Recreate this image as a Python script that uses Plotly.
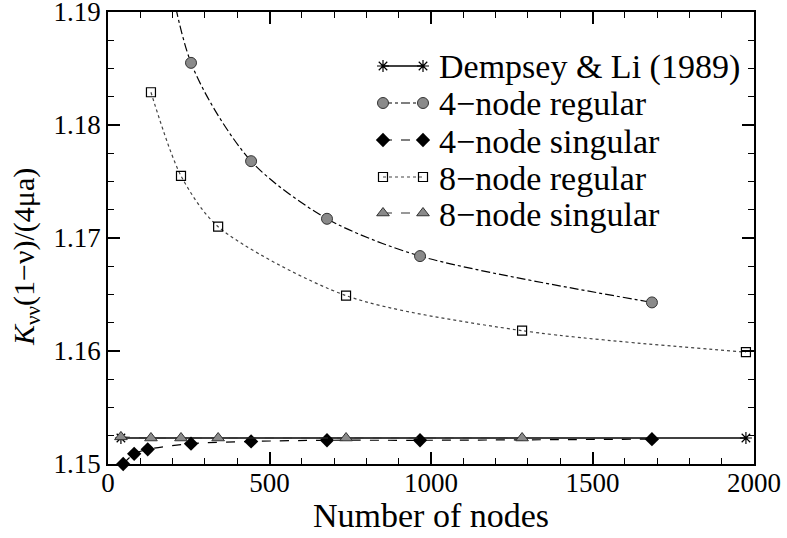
import plotly.graph_objects as go

# ---- data ----
dempsey_x = [40, 1975]
dempsey_y = [1.1523, 1.1523]

reg4_x = [123, 257, 443, 678, 966, 1684]
reg4_y = [1.2045, 1.1855, 1.1768, 1.1717, 1.1684, 1.1643]

sing4_x = [47, 81, 123, 257, 443, 678, 966, 1684]
sing4_y = [1.1500, 1.1509, 1.1513, 1.1518, 1.1520, 1.1521, 1.1521, 1.1522]

reg8_x = [133, 226, 341, 737, 1282, 1975]
reg8_y = [1.1829, 1.1755, 1.1710, 1.1649, 1.1618, 1.1599]

sing8_x = [40, 133, 226, 341, 737, 1282]
sing8_y = [1.1524, 1.1523, 1.1523, 1.1523, 1.1523, 1.1523]

series_names = ["Dempsey &amp; Li (1989)", "4−node regular", "4−node singular",
                "8−node regular", "8−node singular"]
x_ticks = [0, 500, 1000, 1500, 2000]
x_ticktext = ["0", "500", "1000", "1500", "2000"]
y_ticks = [1.15, 1.16, 1.17, 1.18, 1.19]
y_ticktext = ["1.15", "1.16", "1.17", "1.18", "1.19"]

FONT = "Liberation Serif"

styles = [
    dict(line=dict(color="black", width=1.5),
         marker=dict(symbol="asterisk-open", size=10, color="black", line=dict(color="black", width=1.2))),
    dict(line=dict(color="black", width=1.2, dash="dashdot", shape="spline", smoothing=0.8),
         marker=dict(symbol="circle", size=11, color="#8a8a8a", line=dict(color="#333333", width=1))),
    dict(line=dict(color="black", width=1.2, dash="dash", shape="spline", smoothing=0.8),
         marker=dict(symbol="diamond", size=11, color="black")),
    dict(line=dict(color="#444444", width=1.2, dash="dot", shape="spline", smoothing=0.8),
         marker=dict(symbol="square-open", size=9, color="black", line=dict(color="black", width=1.2))),
    dict(line=dict(color="#333333", width=1.2, dash="dash", shape="spline", smoothing=0.8),
         marker=dict(symbol="triangle-up", size=11, color="#8a8a8a", line=dict(color="#333333", width=1))),
]
data = [(dempsey_x, dempsey_y), (reg4_x, reg4_y), (sing4_x, sing4_y), (reg8_x, reg8_y), (sing8_x, sing8_y)]
clip = [True, True, False, True, False]

fig = go.Figure()
for (xs, ys), name, st, c in zip(data, series_names, styles, clip):
    fig.add_trace(go.Scatter(x=xs, y=ys, name=name, mode="lines+markers",
                             cliponaxis=c, showlegend=False, **st))

# ---- legend (xmgrace style: marker - line - marker) on an overlay axis in [0,1] ----
W, H = 787, 538
L, R, T, B = 108, 33, 12, 74
pw, ph = W - L - R, H - T - B
def px(xp):
    return (xp - L) / pw
def py(yp):
    return (H - B - yp) / ph

leg_rows = [66, 103, 140, 177, 213]
for name, st, row in zip(series_names, styles, leg_rows):
    st2 = dict(st)
    st2["line"] = {k: v for k, v in st["line"].items() if k not in ("shape", "smoothing")}
    fig.add_trace(go.Scatter(x=[px(383), px(423)], y=[py(row), py(row)], mode="lines+markers",
                             xaxis="x2", yaxis="y2", showlegend=False, hoverinfo="skip",
                             cliponaxis=False, **st2))
    fig.add_annotation(text=name, x=px(437), y=py(row + 1), xref="paper", yref="paper",
                       xanchor="left", yanchor="middle", showarrow=False,
                       font=dict(family=FONT, size=34, color="black"))

# axis titles
fig.add_annotation(text="Number of nodes", x=0.5, y=py(515), xref="paper", yref="paper",
                   xanchor="center", yanchor="middle", showarrow=False,
                   font=dict(family=FONT, size=34, color="black"))
fig.add_annotation(text="<i>K</i><sub>νν</sub>(1−ν)/(4μa)", x=px(26), y=py(257),
                   xref="paper", yref="paper", xanchor="center", yanchor="middle",
                   textangle=-90, showarrow=False,
                   font=dict(family=FONT, size=30, color="black"))

axis_common = dict(
    showgrid=False, zeroline=False, showline=True, linecolor="black", linewidth=1.5,
    mirror="allticks", ticks="inside", ticklen=12, tickwidth=1.5, tickcolor="black",
    tickfont=dict(family=FONT, size=27, color="black"), ticklabeloverflow="allow",
    automargin=False,
)

fig.update_xaxes(
    range=[0, 2000], tickvals=x_ticks, ticktext=x_ticktext, ticklabelstandoff=-6,
    minor=dict(dtick=100, ticks="inside", ticklen=6, tickwidth=1.2, tickcolor="black"),
    **axis_common,
)
fig.update_yaxes(
    range=[1.15, 1.19], tickvals=y_ticks, ticktext=y_ticktext,
    minor=dict(dtick=0.0025, ticks="inside", ticklen=6, tickwidth=1.2, tickcolor="black"),
    **axis_common,
)

fig.update_layout(
    width=W, height=H,
    margin=dict(l=L, r=R, t=T, b=B, autoexpand=False),
    plot_bgcolor="white", paper_bgcolor="white",
    font=dict(family=FONT, color="black"),
    showlegend=False,
    xaxis2=dict(overlaying="x", range=[0, 1], visible=False, fixedrange=True),
    yaxis2=dict(overlaying="y", range=[0, 1], visible=False, fixedrange=True),
)

fig.write_html("out.html")
